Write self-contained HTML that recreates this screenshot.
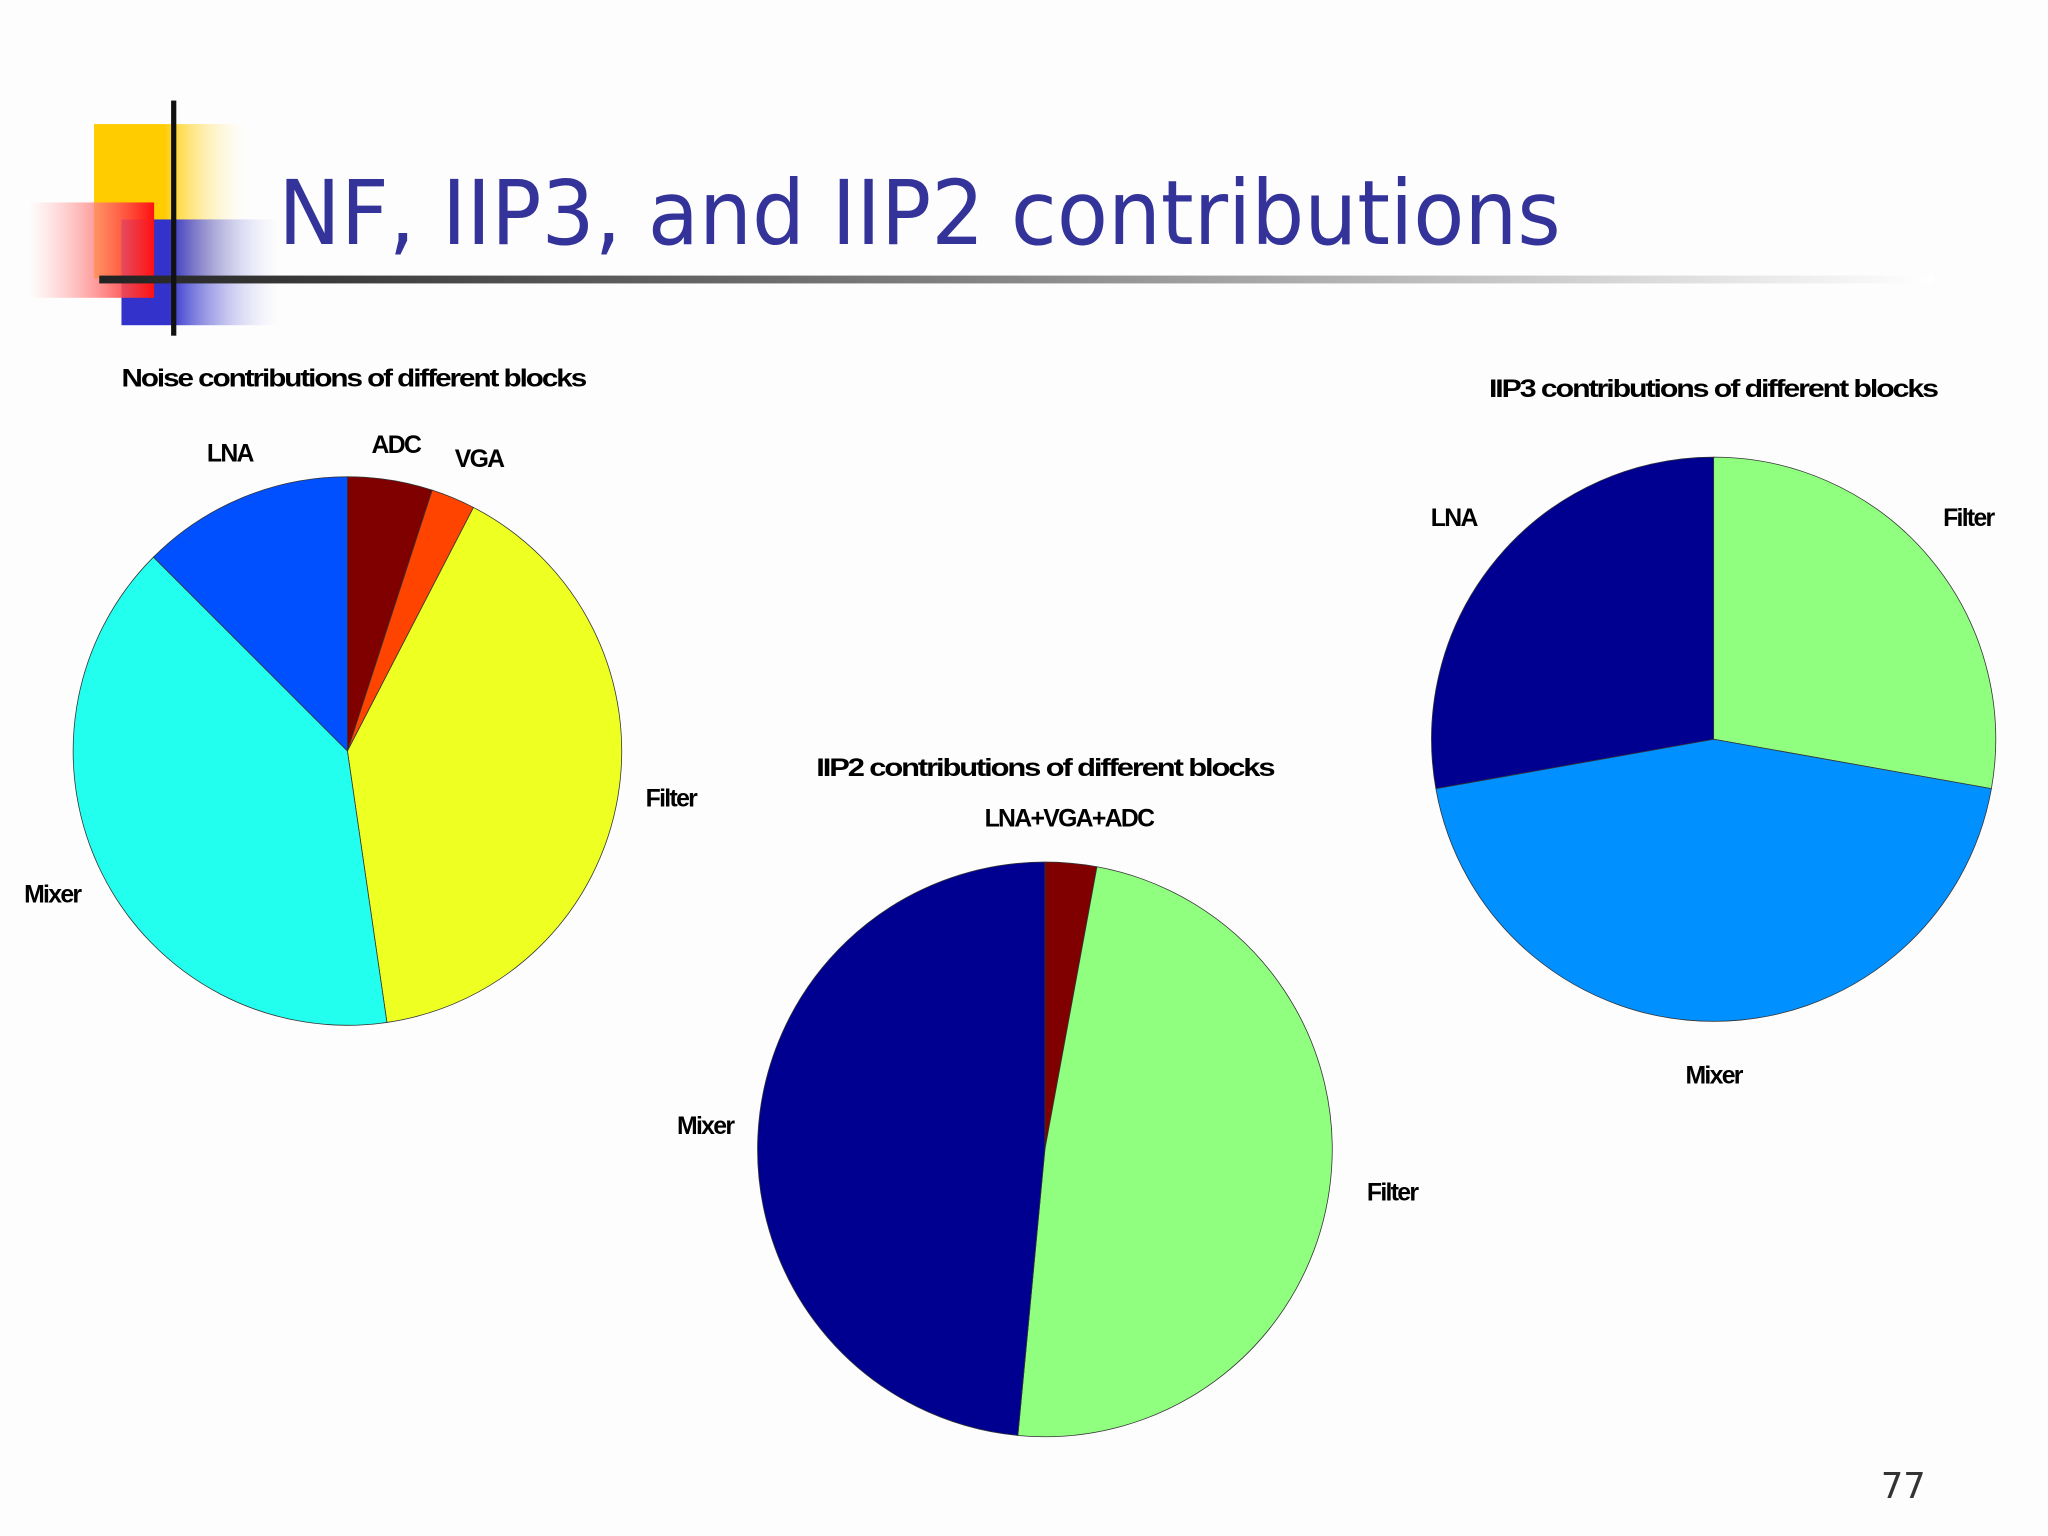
<!DOCTYPE html>
<html><head><meta charset="utf-8"><style>
html,body{margin:0;padding:0;background:#fdfdfd;}
svg{display:block;}
.lbl{font-family:"Liberation Sans",sans-serif;font-weight:bold;font-size:19px;letter-spacing:-1.3px;fill:#000;}
</style></head><body>
<svg id="chart" width="2048" height="1536" viewBox="0 0 1568 1176" xmlns="http://www.w3.org/2000/svg">
<defs>
<linearGradient id="gy" x1="0" x2="1"><stop offset="0.45" stop-color="#ffcc00"/><stop offset="1" stop-color="#fff" stop-opacity="0.2"/></linearGradient>
<linearGradient id="gr" x1="0" x2="1"><stop offset="0" stop-color="#fff" stop-opacity="0.5"/><stop offset="1" stop-color="#ff1010"/></linearGradient>
<linearGradient id="gb" x1="0" x2="1"><stop offset="0.3" stop-color="#3333cc"/><stop offset="1" stop-color="#fff" stop-opacity="0.2"/></linearGradient>
<linearGradient id="gl" x1="0" x2="1"><stop offset="0" stop-color="#222"/><stop offset="0.5" stop-color="#888"/><stop offset="1" stop-color="#fff"/></linearGradient>
</defs>
<rect width="1568" height="1176" fill="#fdfdfd"/>
<g>
<rect x="72" y="95" width="118" height="118" fill="url(#gy)"/>
<rect x="93" y="168" width="122" height="81" fill="url(#gb)"/>
<rect x="21" y="155" width="97" height="73" fill="url(#gr)"/>
<rect x="76" y="211" width="1404" height="6" fill="url(#gl)"/>
<rect x="131" y="77" width="4" height="180" fill="#111"/>
</g>
<text x="213" y="187" font-family="'DejaVu Sans',sans-serif" font-size="68" fill="#333399" textLength="982" lengthAdjust="spacingAndGlyphs">NF, IIP3, and IIP2 contributions</text>
<text x="1440" y="1147" font-family="'DejaVu Sans',sans-serif" font-size="27" fill="#333">77</text>
<text class="lbl" x="93" y="296" textLength="355" lengthAdjust="spacingAndGlyphs">Noise contributions of different blocks</text>
<text class="lbl" x="625" y="594" textLength="350" lengthAdjust="spacingAndGlyphs">IIP2 contributions of different blocks</text>
<text class="lbl" x="1140" y="304" textLength="343" lengthAdjust="spacingAndGlyphs">IIP3 contributions of different blocks</text>
<g id="pies"></g>
</svg>
<script>
const noiseLabels = ["ADC","VGA","Filter","Mixer","LNA"];
const noiseValues = [5.0, 2.6, 40.1, 39.8, 12.5];
const noiseColors = ["#800000","#ff4400","#eeff22","#22ffee","#0050ff"];
const iip2Labels = ["LNA+VGA+ADC","Filter","Mixer"];
const iip2Values = [2.9, 48.6, 48.5];
const iip2Colors = ["#800000","#90ff80","#000090"];
const iip3Labels = ["Filter","Mixer","LNA"];
const iip3Values = [27.8, 44.4, 27.8];
const iip3Colors = ["#90ff80","#0090ff","#000090"];

const NS = "http://www.w3.org/2000/svg";
const root = document.getElementById('pies');
function pt(cx, cy, r, a){ return [cx + r*Math.sin(a), cy - r*Math.cos(a)]; }
function drawPie(name, labels, values, colors, cx, cy, r, lblOffsets){
  const g = document.createElementNS(NS,'g');
  
  
  root.appendChild(g);
  const total = values.reduce((s,v)=>s+v,0);
  let cum = 0;
  values.forEach((v,i)=>{
    const a0 = cum/total*2*Math.PI; cum += v; const a1 = cum/total*2*Math.PI;
    const p0 = pt(cx,cy,r,a0), p1 = pt(cx,cy,r,a1);
    const large = (a1-a0) > Math.PI ? 1 : 0;
    const path = document.createElementNS(NS,'path');
    path.setAttribute('d', `M${cx},${cy} L${p0[0]},${p0[1]} A${r},${r} 0 ${large} 1 ${p1[0]},${p1[1]} Z`);
    path.setAttribute('fill', colors[i]);
    path.setAttribute('stroke', '#333');
    path.setAttribute('stroke-width', '0.6');
    
    
    g.appendChild(path);
    const am = (a0+a1)/2;
    const lp = pt(cx,cy,r*1.22,am);
    const off = (lblOffsets && lblOffsets[i]) || [0,0];
    const t = document.createElementNS(NS,'text');
    t.setAttribute('class','lbl');
    t.setAttribute('x', lp[0] + off[0]);
    t.setAttribute('y', lp[1] + 6 + off[1]);
    t.setAttribute('text-anchor','middle');
    
    
    t.textContent = labels[i];
    g.appendChild(t);
  });
}
drawPie('noise-pie', noiseLabels, noiseValues, noiseColors, 266, 575, 210, [[-3,19],[2,13],[-5,-6],[3,-5],[8,9]]);
drawPie('iip2-pie', iip2Labels, iip2Values, iip2Colors, 800, 880, 220, [[-6,14],[0,-4],[8,-5]]);
drawPie('iip3-pie', iip3Labels, iip3Values, iip3Colors, 1312, 566, 216, [[-7,0],[0,-6],[3,0]]);
</script>
</body></html>
